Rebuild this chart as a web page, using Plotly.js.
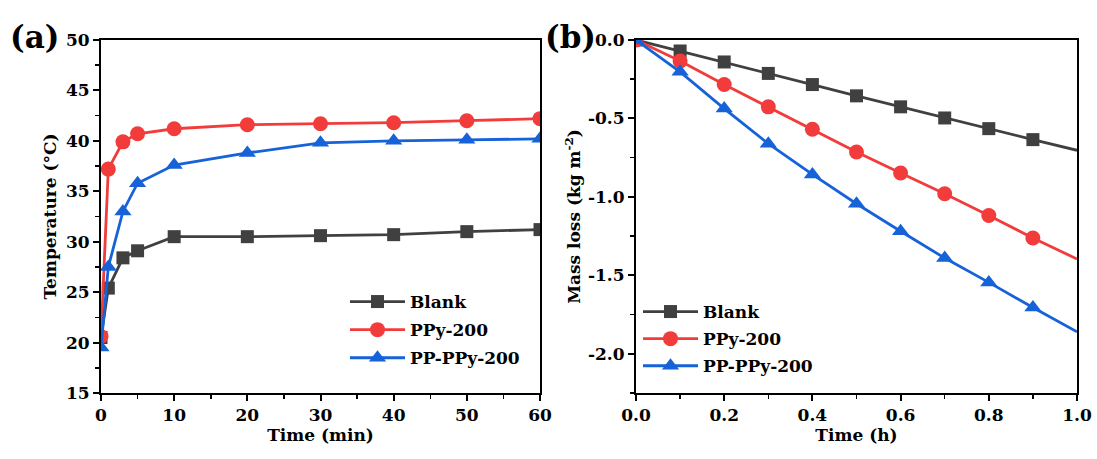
<!DOCTYPE html>
<html>
<head>
<meta charset="utf-8">
<script src="https://cdn.plot.ly/plotly-3.0.1.min.js"></script>
<style>html,body{margin:0;padding:0;background:#fff;}#chart{width:1097px;height:459px;}</style>
</head>
<body>
<div id="chart"></div>
<script>
// Panel (a): temperature vs time (min)
const timeMin = [0, 1, 3, 5, 10, 20, 30, 40, 50, 60];
const blankTemp = [20.5, 25.4, 28.4, 29.1, 30.5, 30.5, 30.6, 30.7, 31.0, 31.2];
const ppyTemp = [20.6, 37.2, 39.9, 40.7, 41.2, 41.6, 41.7, 41.8, 42.0, 42.2];
const ppppyTemp = [19.5, 27.5, 33.0, 35.8, 37.6, 38.8, 39.8, 40.0, 40.1, 40.2];

// Panel (b): mass loss vs time (h)
const timeH = [0, 0.1, 0.2, 0.3, 0.4, 0.5, 0.6, 0.7, 0.8, 0.9, 1.0];
const blankLoss = [0, -0.07, -0.14, -0.213, -0.284, -0.356, -0.426, -0.497, -0.565, -0.635, -0.703];
const ppyLoss = [0, -0.134, -0.284, -0.426, -0.569, -0.714, -0.848, -0.98, -1.119, -1.262, -1.396];
const ppppyLoss = [0, -0.203, -0.437, -0.661, -0.857, -1.044, -1.219, -1.39, -1.545, -1.705, -1.86];

const seriesNames = ['Blank', 'PPy-200', 'PP-PPy-200'];

// tick labels
const aXTicks = [0, 10, 20, 30, 40, 50, 60];
const aYTicks = [15, 20, 25, 30, 35, 40, 45, 50];
const bXTicks = [0, 0.2, 0.4, 0.6, 0.8, 1.0];
const bXLabels = ['0.0', '0.2', '0.4', '0.6', '0.8', '1.0'];
const bYTicks = [0, -0.5, -1.0, -1.5, -2.0];
const bYLabels = ['0.0', '-0.5', '-1.0', '-1.5', '-2.0'];

const colors = ['#404040', '#f23c3c', '#1662d8'];
const symbols = ['square', 'circle', 'triangle-up'];
const sizes = [13, 15, 15];
const FONT = 'DejaVu Serif, serif';

const traces = [];
const aY = [blankTemp, ppyTemp, ppppyTemp];
const bY = [blankLoss, ppyLoss, ppppyLoss];
for (let i = 0; i < 3; i++) {
  traces.push({
    x: timeMin, y: aY[i], name: seriesNames[i], type: 'scatter', mode: 'lines+markers',
    xaxis: 'x', yaxis: 'y', legend: 'legend', legendgroup: 'a' + i,
    line: {color: colors[i], width: 2.8},
    marker: {color: colors[i], symbol: symbols[i], size: sizes[i]}
  });
}
for (let i = 0; i < 3; i++) {
  traces.push({
    x: timeH.slice(0, 10), y: bY[i].slice(0, 10), name: seriesNames[i], type: 'scatter', mode: 'lines+markers',
    xaxis: 'x2', yaxis: 'y2', legend: 'legend2', legendgroup: 'b' + i,
    line: {color: colors[i], width: 2.8},
    marker: {color: colors[i], symbol: symbols[i], size: sizes[i]}
  });
  traces.push({
    x: timeH.slice(9), y: bY[i].slice(9), type: 'scatter', mode: 'lines',
    xaxis: 'x2', yaxis: 'y2', showlegend: false, hoverinfo: 'skip',
    line: {color: colors[i], width: 2.8}
  });
}

const W = 1097, H = 459;
const axisCommon = {
  showline: true, linecolor: '#000', linewidth: 2, mirror: true,
  ticks: 'outside', ticklen: 6, tickwidth: 2, tickcolor: '#000',
  showgrid: false, zeroline: false,
  tickfont: {family: FONT, size: 17, color: '#000', weight: 'bold'}
};
const titleFont = {family: FONT, size: 17, color: '#000', weight: 'bold'};
const legFont = {family: FONT, size: 17, color: '#000', weight: 'bold'};

const layout = {
  width: W, height: H,
  margin: {l: 0, r: 0, t: 0, b: 0},
  paper_bgcolor: '#fff', plot_bgcolor: '#fff',
  font: {family: FONT, color: '#000'},
  xaxis: Object.assign({}, axisCommon, {
    domain: [101 / W, 540 / W], range: [0, 60], tickvals: aXTicks,
    minor: {dtick: 5, tick0: 0, ticklen: 4, tickwidth: 1.5, tickcolor: '#000', ticks: 'outside'},
    title: {text: 'Time (min)', font: titleFont, standoff: 5},
    anchor: 'y'
  }),
  yaxis: Object.assign({}, axisCommon, {
    domain: [(H - 393) / H, (H - 40) / H], range: [15, 50], tickvals: aYTicks,
    minor: {dtick: 2.5, tick0: 15, ticklen: 4, tickwidth: 1.5, tickcolor: '#000', ticks: 'outside'},
    title: {text: 'Temperature (°C)', font: titleFont, standoff: 5},
    anchor: 'x'
  }),
  xaxis2: Object.assign({}, axisCommon, {
    domain: [636 / W, 1077 / W], range: [0, 1], tickvals: bXTicks, ticktext: bXLabels,
    minor: {dtick: 0.1, tick0: 0, ticklen: 4, tickwidth: 1.5, tickcolor: '#000', ticks: 'outside'},
    title: {text: 'Time (h)', font: titleFont, standoff: 5},
    anchor: 'y2'
  }),
  yaxis2: Object.assign({}, axisCommon, {
    domain: [(H - 393) / H, (H - 40) / H], range: [-2.25, 0], tickvals: bYTicks, ticktext: bYLabels,
    minor: {dtick: 0.25, tick0: 0, ticklen: 4, tickwidth: 1.5, tickcolor: '#000', ticks: 'outside'},
    title: {text: 'Mass loss (kg m<sup>-2</sup>)', font: titleFont, standoff: 3},
    anchor: 'x2'
  }),
  legend: {
    x: 345 / W, y: (H - 284) / H, xanchor: 'left', yanchor: 'top',
    bgcolor: 'rgba(0,0,0,0)', borderwidth: 0, itemwidth: 55, tracegroupgap: 3,
    font: legFont
  },
  legend2: {
    x: 638 / W, y: (H - 294) / H, xanchor: 'left', yanchor: 'top',
    bgcolor: 'rgba(0,0,0,0)', borderwidth: 0, itemwidth: 55, tracegroupgap: 2,
    font: legFont
  },
  annotations: [
    {text: '(a)', xref: 'paper', yref: 'paper', x: 8 / W, y: (H - 37) / H, xanchor: 'left', yanchor: 'middle', showarrow: false,
     font: {family: FONT, size: 31, color: '#000', weight: 'bold'}},
    {text: '(b)', xref: 'paper', yref: 'paper', x: 543 / W, y: (H - 37) / H, xanchor: 'left', yanchor: 'middle', showarrow: false,
     font: {family: FONT, size: 31, color: '#000', weight: 'bold'}}
  ]
};

Plotly.newPlot('chart', traces, layout, {displayModeBar: false, staticPlot: true});
</script>
</body>
</html>
